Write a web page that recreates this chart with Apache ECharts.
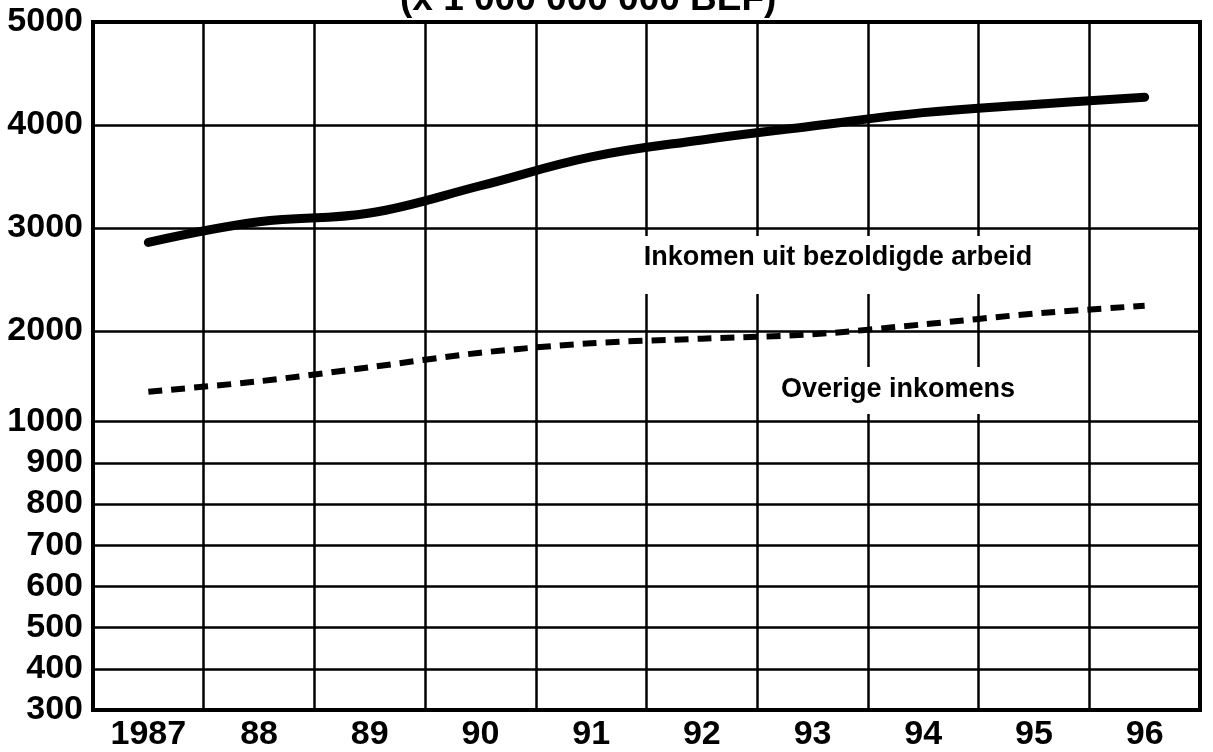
<!DOCTYPE html>
<html>
<head>
<meta charset="utf-8">
<script src="https://cdn.jsdelivr.net/npm/echarts@6/dist/echarts.min.js"></script>
<style>
  html, body { margin: 0; padding: 0; background: #fff; }
  #chart { width: 1213px; height: 752px; }
</style>
</head>
<body>
<div id="chart"></div>
<script>
// Years on the horizontal axis
const years = ['1987', '88', '89', '90', '91', '92', '93', '94', '95', '96'];
// Income from paid employment (x 1 000 000 000 BEF)
const wageIncome = [2860, 3060, 3145, 3410, 3690, 3855, 3990, 4120, 4200, 4270];
// Other incomes (x 1 000 000 000 BEF)
const otherIncome = [1330, 1445, 1600, 1760, 1865, 1915, 1963, 2064, 2168, 2245];
// Vertical axis tick labels
const yTicks = [300, 400, 500, 600, 700, 800, 900, 1000, 2000, 3000, 4000, 5000];
const seriesNames = ['Inkomen uit bezoldigde arbeid', 'Overige inkomens'];
const unitText = '(x 1 000 000 000 BEF)';

// Piecewise-linear vertical scale: steps of 100 below 1000, steps of 1000 above.
// Each segment: [from, to, length in axis units]
const SEGMENTS = [
  [300, 1000, 7],
  [1000, 2000, 2.2],
  [2000, 5000, 7.5]
];
const AXIS_MAX = SEGMENTS.reduce((s, g) => s + g[2], 0);

function toAxis(v) {
  let base = 0;
  for (const [a, b, len] of SEGMENTS) {
    if (v <= b || b === SEGMENTS[SEGMENTS.length - 1][1]) {
      return base + (v - a) / (b - a) * len;
    }
    base += len;
  }
  return base;
}
function fromAxis(u) {
  let base = 0;
  for (const [a, b, len] of SEGMENTS) {
    if (u <= base + len + 1e-9) return a + (u - base) / len * (b - a);
    base += len;
  }
  return SEGMENTS[SEGMENTS.length - 1][1];
}

const tickUnits = yTicks.map(toAxis);
const LABEL_FONT = '"Liberation Sans", Arial, Helvetica, sans-serif';

const chart = echarts.init(document.getElementById('chart'), null, { renderer: 'canvas' });

chart.setOption({
  backgroundColor: '#ffffff',
  animation: false,
  grid: {
    left: 93, right: 13, top: 22, bottom: 37,
    show: true,
    borderColor: '#000',
    borderWidth: 4,
    backgroundColor: 'transparent'
  },
  xAxis: {
    type: 'category',
    data: years,
    boundaryGap: true,
    axisLine: { show: false },
    axisTick: { show: false },
    axisLabel: {
      color: '#000',
      fontFamily: LABEL_FONT,
      fontWeight: 'bold',
      fontSize: 34,
      margin: 8
    },
    splitLine: { show: true, lineStyle: { color: '#000', width: 2.5 } }
  },
  yAxis: {
    type: 'value',
    min: 0,
    max: AXIS_MAX,
    axisLine: { show: false },
    axisTick: { show: false, customValues: tickUnits },
    axisLabel: {
      customValues: tickUnits,
      color: '#000',
      fontFamily: LABEL_FONT,
      fontWeight: 'bold',
      fontSize: 34,
      margin: 10,
      formatter: (u) => String(Math.round(fromAxis(u) / 100) * 100)
    },
    splitLine: { show: true, lineStyle: { color: '#000', width: 2.5 } }
  },
  series: [
    {
      name: seriesNames[0],
      type: 'line',
      data: wageIncome.map(toAxis),
      smooth: 0.4,
      symbol: 'none',
      lineStyle: { color: '#000', width: 9, cap: 'round', join: 'round' },
      z: 3
    },
    {
      name: seriesNames[1],
      type: 'line',
      data: otherIncome.map(toAxis),
      smooth: 0.3,
      symbol: 'none',
      lineStyle: { color: '#000', width: 6, type: [14, 9] },
      z: 3
    }
  ],
  graphic: [
    {
      type: 'text',
      left: 400,
      top: -19,
      z: 10,
      style: {
        text: unitText,
        fill: '#000',
        font: 'bold 37px ' + LABEL_FONT
      }
    },
    {
      type: 'rect',
      z: 5,
      shape: { x: 548, y: 236, width: 532, height: 58 },
      style: { fill: '#fff' }
    },
    {
      type: 'text',
      z: 6,
      style: {
        x: 838, y: 258,
        text: seriesNames[0],
        fill: '#000',
        font: 'bold 27px ' + LABEL_FONT,
        align: 'center',
        verticalAlign: 'middle'
      }
    },
    {
      type: 'rect',
      z: 5,
      shape: { x: 772, y: 367, width: 308, height: 47 },
      style: { fill: '#fff' }
    },
    {
      type: 'text',
      z: 6,
      style: {
        x: 898, y: 390,
        text: seriesNames[1],
        fill: '#000',
        font: 'bold 27px ' + LABEL_FONT,
        align: 'center',
        verticalAlign: 'middle'
      }
    }
  ]
});
</script>
</body>
</html>
